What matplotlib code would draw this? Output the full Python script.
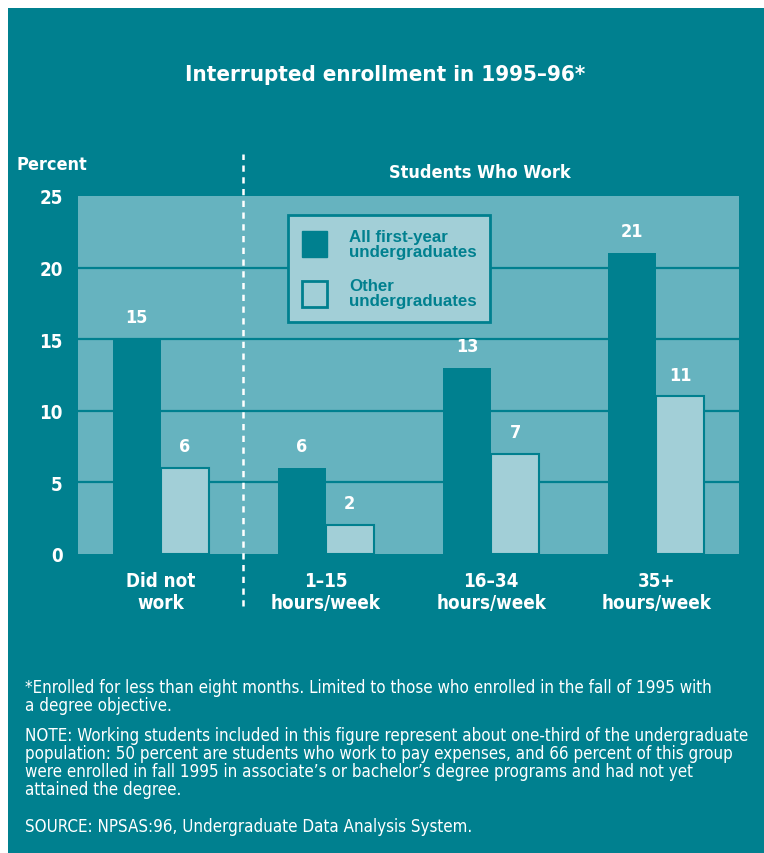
import matplotlib.pyplot as plt
from matplotlib.patches import Patch, Rectangle

# -------------------------------------------------------------------
# Data
# -------------------------------------------------------------------
categories = ["Did not\nwork", "1\u201315\nhours/week", "16\u201334\nhours/week", "35+\nhours/week"]
first_year = [15, 6, 13, 21]
other = [6, 2, 7, 11]
y_ticks = [0, 5, 10, 15, 20, 25]

title = "Interrupted enrollment in 1995\u201396*"
notes = [
    "*Enrolled for less than eight months. Limited to those who enrolled in the fall of 1995 with\na degree objective.",
    "NOTE: Working students included in this figure represent about one-third of the undergraduate\n"
    "population: 50 percent are students who work to pay expenses, and 66 percent of this group\n"
    "were enrolled in fall 1995 in associate\u2019s or bachelor\u2019s degree programs and had not yet\n"
    "attained the degree.",
    "SOURCE: NPSAS:96, Undergraduate Data Analysis System.",
]

# colours
DARK = "#00808F"
MID = "#66B3BF"
LIGHT = "#A2CFD7"
NARROW = dict(family="DejaVu Sans", stretch="condensed")

W, H = 764, 854
fig = plt.figure(figsize=(W / 100, H / 100), dpi=100)
fig.patch.set_facecolor("white")
fig.patches.append(Rectangle((8 / W, 0), 1 - 8 / W, 1 - 9 / H,
                             transform=fig.transFigure, facecolor=DARK,
                             edgecolor="none", zorder=-5))

ax = fig.add_axes([78 / W, 299 / H, 661 / W, 358 / H])
ax.set_facecolor(MID)
for s in ax.spines.values():
    s.set_visible(False)

x = list(range(len(categories)))
bw = 0.29
ax.bar([i - bw / 2 for i in x], first_year, width=bw, color=DARK,
       edgecolor="none", zorder=3)
ax.bar([i + bw / 2 for i in x], other, width=bw, color=LIGHT,
       edgecolor=DARK, linewidth=1.5, zorder=3)

for i in x:
    ax.text(i - bw / 2, first_year[i] + 0.9, str(first_year[i]), ha="center",
            va="bottom", color="white", fontsize=13, fontweight="bold",
            zorder=4, **NARROW)
    ax.text(i + bw / 2, other[i] + 0.9, str(other[i]), ha="center",
            va="bottom", color="white", fontsize=13, fontweight="bold",
            zorder=4, **NARROW)

ax.set_xlim(-0.5, 3.5)
ax.set_ylim(0, 25)
ax.set_yticks(y_ticks)
ax.set_yticklabels([str(v) for v in y_ticks], color="white", fontsize=13.5,
                   fontweight="bold", **NARROW)
ax.set_xticks(x)
ax.set_xticklabels(categories, color="white", fontsize=13.5, fontweight="bold",
                   linespacing=1.2, **NARROW)
ax.tick_params(axis="both", length=0)
ax.tick_params(axis="y", pad=11)
ax.tick_params(axis="x", pad=12)

for v in y_ticks[1:-1]:
    ax.axhline(v, color=DARK, linewidth=1.6, zorder=2)

# dashed divider between "did not work" and working students
ax.axvline(0.5, ymin=-0.145, ymax=1.117, color="white", linewidth=1.8,
           linestyle=(0, (2.5, 2.2)), clip_on=False, zorder=5)

handles = [Patch(facecolor=DARK, edgecolor=DARK),
           Patch(facecolor=LIGHT, edgecolor=DARK, linewidth=2)]
leg = ax.legend(handles, ["All first-year\nundergraduates", "Other\nundergraduates"],
                loc="upper left", bbox_to_anchor=(288 / W, 1 - 216 / H),
                bbox_transform=fig.transFigure, frameon=True, fancybox=False,
                facecolor=LIGHT, edgecolor=DARK, framealpha=1,
                labelcolor=DARK, handlelength=1.5, handleheight=2.0,
                handletextpad=1.3, labelspacing=1.15, borderpad=0.8,
                borderaxespad=0,
                prop={"family": "Liberation Sans", "weight": "bold", "size": 12.2})
leg.get_frame().set_linewidth(2)
leg.set_zorder(6)
for t in leg.get_texts():
    t.set_linespacing(1.0)

fig.text(385 / W, 1 - 75 / H, title, ha="center", va="center", color="white",
         fontsize=16, fontweight="bold", **NARROW)
fig.text(17 / W, 1 - 165 / H, "Percent", ha="left", va="center", color="white",
         fontsize=13, fontweight="bold", **NARROW)
fig.text(480 / W, 1 - 173 / H, "Students Who Work", ha="center", va="center",
         color="white", fontsize=13, fontweight="bold", **NARROW)

note_y = [679, 727, 818]
for ny, note in zip(note_y, notes):
    fig.text(25 / W, 1 - ny / H, note, ha="left", va="top", color="white",
             fontsize=12.2, linespacing=1.0, **NARROW)

fig.savefig("out.png", dpi=100, facecolor=fig.get_facecolor())
